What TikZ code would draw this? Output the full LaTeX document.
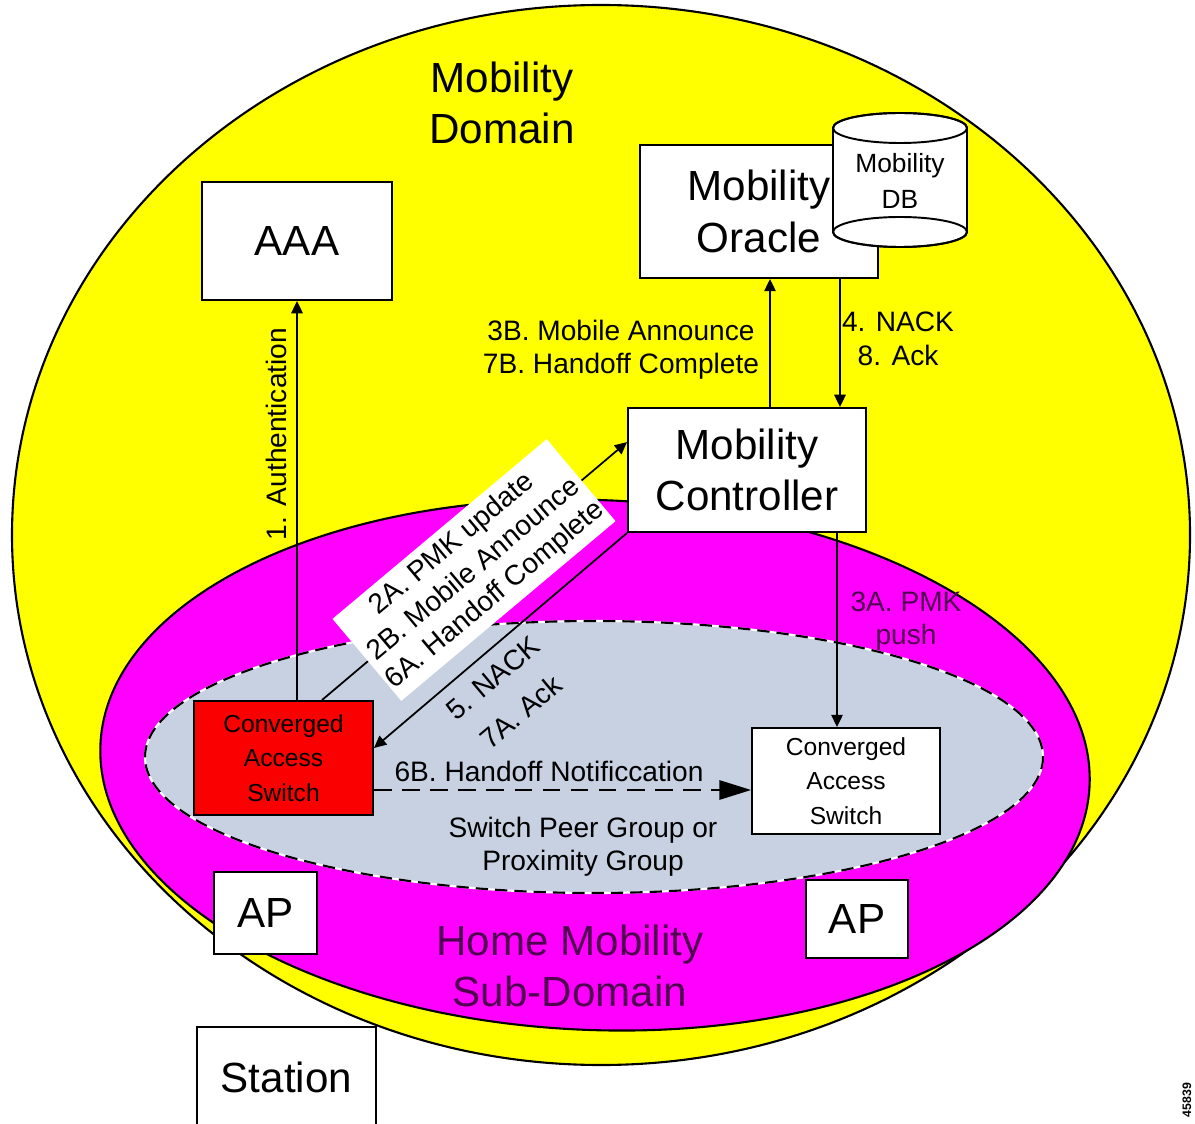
\documentclass[tikz,border=0pt]{standalone}
\usepackage{fontspec}
\setmainfont{Liberation Sans}
\usetikzlibrary{arrows.meta}

\definecolor{domainyellow}{RGB}{255,255,0}
\definecolor{subdomainpink}{RGB}{255,0,255}
\definecolor{peergrey}{RGB}{199,209,225}
\definecolor{switchred}{RGB}{250,0,0}
\definecolor{pinktext}{RGB}{80,0,80}

\begin{document}
\begin{tikzpicture}[x=0.02cm,y=-0.02cm,
  box/.style={draw=black,fill=white,line width=1.1pt,inner sep=0pt,align=center},
  big/.style={font=\fontsize{24}{29.5}\selectfont,align=center},
  mid/.style={font=\fontsize{16}{19}\selectfont,align=center},
  small/.style={font=\fontsize{14}{19.5}\selectfont},
  msg/.style={line width=1pt,-{Triangle[length=7pt,width=6.5pt]}}]
  \useasboundingbox (0,0) rectangle (1195,1124);
  % domains
  \filldraw[fill=domainyellow,draw=black,line width=1.2pt] (601,535) ellipse [x radius=589,y radius=530];
  \filldraw[fill=subdomainpink,draw=black,line width=1.2pt,rotate around={-2.3:(595,765)}] (595,765) ellipse [x radius=495,y radius=265];
  \filldraw[fill=peergrey,draw=white,line width=1.2pt] (594,757) ellipse [x radius=449,y radius=136];
  \draw[line width=1.2pt,dash pattern=on 7pt off 4pt] (594,757) ellipse [x radius=449,y radius=136];
  % boxes
  \node[box,big,minimum width=3.8cm,minimum height=2.36cm] (aaa) at (297,241) {AAA};
  \node[box,big,minimum width=4.76cm,minimum height=2.66cm] (oracle) at (759,211.5) {Mobility\\Oracle};
  \filldraw[fill=white,draw=black,line width=1.1pt] (833,128) -- (833,232)
    arc[start angle=180,end angle=0,x radius=67,y radius=15] -- (967,128)
    arc[start angle=0,end angle=-180,x radius=67,y radius=15];
  \draw[line width=1.1pt] (900,128) ellipse [x radius=67,y radius=15];
  \draw[line width=1.1pt] (900,232) ellipse [x radius=67,y radius=15];
  \node[font=\fontsize{15}{20}\selectfont,align=center] (db) at (900,181) {Mobility\\DB};
  \node[box,big,minimum width=4.76cm,minimum height=2.48cm] (mc) at (747,470) {Mobility\\Controller};
  \node[box,small,fill=switchred,minimum width=3.58cm,minimum height=2.28cm] (cas1) at (283.5,758) {Converged\\Access\\Switch};
  \node[box,small,minimum width=3.76cm,minimum height=2.12cm] (cas2) at (846,781) {Converged\\Access\\Switch};
  \node[box,big,minimum width=2.06cm,minimum height=1.64cm] (ap1) at (265.5,913) {AP};
  \node[box,big,minimum width=2.04cm,minimum height=1.56cm] (ap2) at (857,919) {AP};
  \node[box,big,minimum width=3.58cm,minimum height=2cm] (station) at (286.5,1077) {Station};
  % messages
  \draw[msg] (aaa.south |- cas1.north) -- (aaa.south);
  \draw[msg] ([xshift=0.77cm]cas1.north) -- ([yshift=0.56cm]mc.west);
  \draw[msg] (mc.south west) -- ([yshift=0.2cm]cas1.east);
  \draw[msg] ([xshift=0.46cm]mc.north) -- ([xshift=0.46cm]mc.north |- oracle.south);
  \draw[msg] ([xshift=1.62cm]oracle.south) -- ([xshift=1.62cm]oracle.south |- mc.north);
  \draw[msg] ([xshift=-0.18cm]cas2.north |- mc.south) -- ([xshift=-0.18cm]cas2.north);
  \draw[line width=1pt,dash pattern=on 10pt off 6pt,-{Triangle[length=18pt,width=11pt]}]
    ([yshift=-0.64cm]cas1.east) -- ([yshift=-0.64cm]cas1.east -| cas2.west);
  % labels
  \node[big] (domainlbl) at (502,103) {Mobility\\Domain};
  \node[mid,rotate=90] (authlbl) at (276,434) {1. Authentication};
  \node[mid] (annlbl) at (621,350) {3B. Mobile Announce\\7B. Handoff Complete};
  \node[mid] (nacklbl) at (898,339) {4. NACK\\8. Ack};
  \node[mid,text=pinktext] (pushlbl) at (906,621) {3A. PMK\\push};
  \node[mid,rotate=40,fill=white,inner xsep=1pt,inner ysep=4pt] (pmklbl) at (474,570)
    {2A. PMK update\\2B. Mobile Announce\\6A. Handoff Complete};
  \node[mid,rotate=40,font=\fontsize{16}{25}\selectfont] (acklbl) at (507,695) {5. NACK\\7A. Ack};
  \node[mid] (notiflbl) at (549,771) {6B. Handoff Notificcation};
  \node[mid] (grouplbl) at (583,847) {Switch Peer Group or\\Proximity Group};
  \node[big,text=pinktext] (homelbl) at (570,966) {Home Mobility\\Sub-Domain};
  \node[rotate=90,font=\fontsize{7}{8}\selectfont\bfseries] (figid) at (1187,1100) {45839};
\end{tikzpicture}
\end{document}
